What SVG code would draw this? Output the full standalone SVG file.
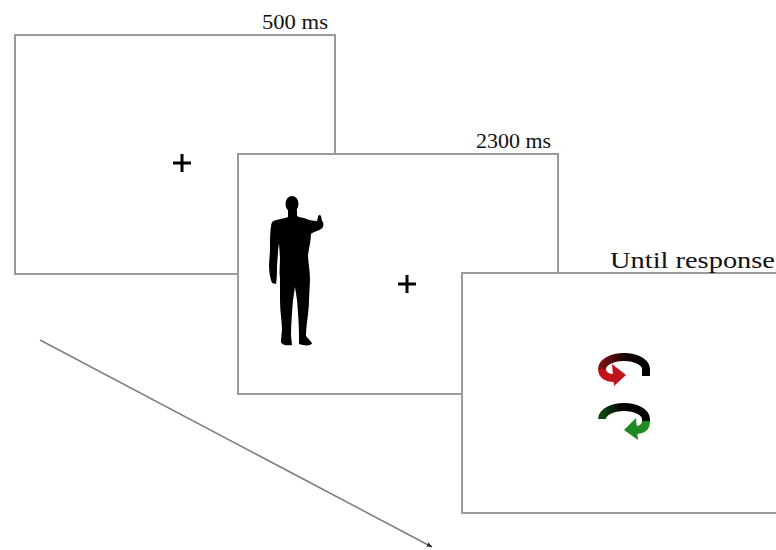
<svg xmlns="http://www.w3.org/2000/svg" width="776" height="550" viewBox="0 0 776 550">
  <defs>
    <style>
      .frame { fill: #ffffff; stroke: #9a9a9a; stroke-width: 2; }
      .cross { stroke: #000000; stroke-width: 3; fill: none; }
      .label { font-family: "Liberation Serif", "Times New Roman", serif; font-size: 21px; fill: #111111; }
      .label-wide { font-size: 23px; }
      .time-arrow { stroke: #808080; stroke-width: 1.6; fill: none; }
    </style>
    <marker id="tip" viewBox="0 0 10 10" refX="9" refY="5" markerWidth="6" markerHeight="6" orient="auto" markerUnits="userSpaceOnUse">
      <path d="M0,1 L10,5 L0,9 Z" fill="#333333"/>
    </marker>
    <linearGradient id="backRed" x1="0" y1="0" x2="1" y2="0">
      <stop offset="0" stop-color="#7a1212"/>
      <stop offset="0.5" stop-color="#1a0505"/>
      <stop offset="1" stop-color="#000000"/>
    </linearGradient>
    <linearGradient id="backGreen" x1="0" y1="0" x2="1" y2="0">
      <stop offset="0" stop-color="#0d4a12"/>
      <stop offset="0.4" stop-color="#050505"/>
      <stop offset="1" stop-color="#000000"/>
    </linearGradient>
  </defs>

  <!-- time axis -->
  <g id="connectors">
    <line class="time-arrow" x1="40" y1="340" x2="432" y2="547" marker-end="url(#tip)"/>
  </g>

  <!-- fixation screen -->
  <g id="screen-fixation">
    <rect class="frame" x="15" y="35" width="320" height="239"/>
    <path class="cross" d="M173,163 H191 M182,154 V172"/>
    <text class="label" x="262" y="29" textLength="66" lengthAdjust="spacingAndGlyphs">500 ms</text>
  </g>

  <!-- body stimulus screen -->
  <g id="screen-body">
    <rect class="frame" x="238" y="154" width="320" height="240"/>
    <path class="cross" d="M398,284 H416 M407,275 V293"/>
    <text class="label" x="476" y="148" textLength="75" lengthAdjust="spacingAndGlyphs">2300 ms</text>
    <g id="silhouette" fill="#000000">
      <ellipse cx="292" cy="204" rx="6.5" ry="8"/>
      <path d="M288,210 L288,217 C283,219 276,219 272,222 C270,228 270,240 270,250 L269,265 C269,272 270,278 272,283 L276,284 C277,278 277,272 277,266 L278,252 C278,248 279,245 279,243 L280,258 C280,265 279,272 280,278 L280,300 C280,312 282,322 282,330 L281,340 C280,345 287,346 292,345 L291,336 C291,325 292,312 293,300 L295,287 L297,300 C298,312 299,325 299,336 L299,344 C304,346 312,346 312,343 L306,336 C306,325 309,312 309,300 L310,280 C310,270 308,262 308,255 C309,248 311,240 311,234 C313,232 318,231 321,229 C324,228 324,222 322,221 L321,216 C320,214 318,215 318,217 L317,221 C313,221 308,220 304,218 C300,217 297,217 297,215 L297,210 Z"/>
    </g>
  </g>

  <!-- response screen -->
  <g id="screen-response">
    <rect class="frame" x="462" y="273" width="320" height="240"/>
    <text class="label label-wide" x="610" y="268" textLength="165" lengthAdjust="spacingAndGlyphs">Until response</text>
    <g id="rotate-red">
      <path d="M602,369 A22,12 0 0 1 646,369 L646,376" stroke="url(#backRed)" stroke-width="8" fill="none"/>
      <path d="M602,369 C602,375 607,378 614,378" stroke="#c0141a" stroke-width="8" fill="none"/>
      <polygon points="612,364 626,375 614,386" fill="#c0141a"/>
    </g>
    <g id="rotate-green">
      <path d="M602,419 A22,12 0 0 1 646,419 L646,422" stroke="url(#backGreen)" stroke-width="8" fill="none"/>
      <path d="M646,421 C646,428 641,430 635,430" stroke="#1f8a23" stroke-width="8" fill="none"/>
      <polygon points="636,418 624,430 638,440" fill="#1f8a23"/>
    </g>
  </g>
</svg>
